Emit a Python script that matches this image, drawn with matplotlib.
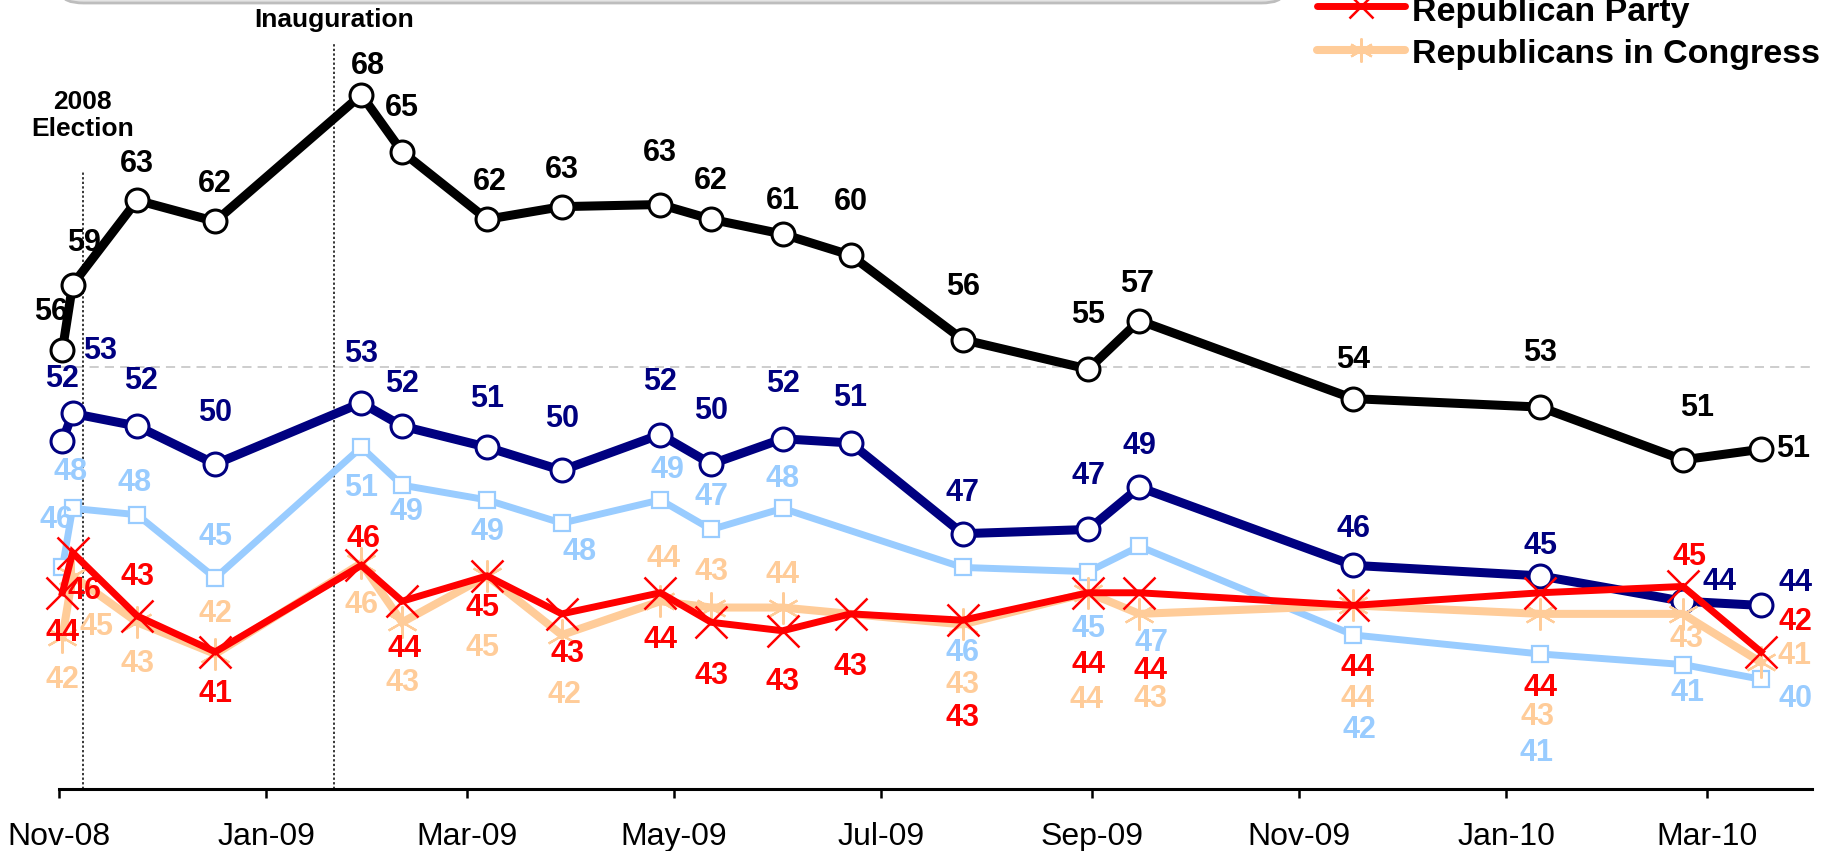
import numpy as np
import pandas as pd
import matplotlib
matplotlib.use("Agg")
import matplotlib.pyplot as plt
import matplotlib.dates as mdates
from matplotlib.lines import Line2D
from matplotlib.patches import FancyBboxPatch

plt.rcParams['font.family'] = ['Liberation Sans', 'DejaVu Sans']

# --- data -------------------------------------------------------------
dates = pd.to_datetime(['2008-11-02', '2008-11-05', '2008-11-24', '2008-12-17',
                        '2009-01-29', '2009-02-10', '2009-03-07', '2009-03-29',
                        '2009-04-27', '2009-05-12', '2009-06-02', '2009-06-22',
                        '2009-07-25', '2009-08-31', '2009-09-15', '2009-11-17',
                        '2010-01-11', '2010-02-22', '2010-03-17'])

series_names = ['Obama', 'Democratic Party', 'Democrats in Congress',
                'Republican Party', 'Republicans in Congress']

obama = [55.8, 58.9, 62.9, 61.9, 67.9, 65.2, 62.0, 62.6, 62.7, 62.0,
         61.3, 60.3, 56.3, 54.9, 57.2, 53.5, 53.1, 50.6, 51.1]
dem_party = [51.5, 52.8, 52.2, 50.4, 53.3, 52.2, 51.2, 50.1, 51.8, 50.4,
             51.6, 51.4, 47.1, 47.3, 49.3, 45.6, 45.1, 43.9, 43.7]
dem_congress = [45.5, 48.3, 48.0, 45.0, 51.2, 49.4, 48.7, 47.6, 48.7, 47.3,
                48.3, np.nan, 45.5, 45.3, 46.5, 42.3, 41.4, 40.9, 40.2]
rep_party = [44.3, 46.2, 43.2, 41.5, 45.6, 43.9, 45.1, 43.3, 44.3, 42.9,
             42.5, 43.3, 43.0, 44.3, 44.3, 43.7, 44.3, 44.6, 41.5]
rep_congress = [42.2, 45.1, 42.9, 41.4, 45.7, 42.9, 45.1, 42.3, 43.9, 43.6,
                43.6, np.nan, 42.8, 44.3, 43.3, 43.7, 43.3, 43.3, 41.0]

# printed data labels
obama_lbl = [56, 59, 63, 62, 68, 65, 62, 63, 63, 62, 61, 60, 56, 55, 57, 54, 53, 51, 51]
dem_party_lbl = [52, 53, 52, 50, 53, 52, 51, 50, 52, 50, 52, 51, 47, 47, 49, 46, 45, 44, 44]
dem_congress_lbl = [46, 48, 48, 45, 51, 49, 49, 48, 49, 47, 48, None, 46, 45, 47, 42, 41, 41, 40]
rep_party_lbl = [44, 46, 43, 41, 46, 44, 45, 43, 44, 43, 43, 43, 43, 44, 44, 44, 44, 45, 42]
rep_congress_lbl = [42, 45, 43, 42, 46, 43, 45, 42, 44, 43, 44, None, 43, 44, 43, 44, 43, 43, 41]

events = pd.to_datetime(['2008-11-08', '2009-01-21'])
event_names = ['2008\nElection', 'Inauguration']

# label offsets in pixels (dx, dy downward)
obama_off = [(-11, -38), (11, -42), (0, -36), (0, -37), (7, -29), (0, -44), (3, -37),
             (0, -37), (0, -52), (0, -38), (0, -33), (0, -53), (0, -53), (0, -54),
             (-2, -37), (0, -39), (0, -54), (14, -52), (32, 0)]
dem_party_off = [(0, -62), (28, -62), (4, -45), (0, -51), (0, -49), (0, -42), (0, -48),
                 (0, -51), (0, -53), (0, -53), (0, -55), (0, -45), (0, -41), (0, -53),
                 (0, -41), (0, -36), (0, -30), (37, -19), (34, -22)]
dem_congress_off = [(-6, -47), (-2, -36), (-3, -32), (0, -41), (0, 41), (4, 27), (0, 32),
                    (18, 29), (7, -30), (0, -32), (0, -29), None, (0, 86), (0, 57),
                    (12, 97), (6, 95), (-4, 99), (5, 28), (34, 20)]
rep_party_off = [(0, 40), (12, 38), (0, -39), (0, 42), (2, -26), (2, 48), (-5, 32),
                 (6, 40), (0, 47), (0, 54), (0, 51), (0, 53), (0, 98), (0, 72),
                 (11, 78), (4, 63), (0, 95), (7, -29), (34, -30)]
rep_congress_off = [(0, 43), (24, 51), (0, 42), (0, -40), (0, 42), (0, 61), (-5, 72),
                    (3, 60), (3, -42), (0, -36), (0, -33), None, (0, 61), (-2, 107),
                    (11, 85), (4, 94), (-3, 103), (4, 25), (33, -6)]

# --- styles -----------------------------------------------------------
styles = [
    dict(color='black', lw=6.5, marker='o', ms=16.5, mfc='white', mec='black', mew=2.2, z=3),
    dict(color='#000080', lw=6.5, marker='o', ms=16.5, mfc='white', mec='#000080', mew=2.2, z=2),
    dict(color='#99CCFF', lw=5.0, marker='s', ms=11.5, mfc='white', mec='#99CCFF', mew=1.6, z=1),
    dict(color='#FF0000', lw=5.0, marker='x', ms=23, mfc='none', mec='#FF0000', mew=1.8, z=5),
    dict(color='#FFCC99', lw=5.8, marker=(6, 2, 0), ms=23, mfc='none', mec='#FFCC99', mew=1.6, z=4),
]
all_vals = [obama, dem_party, dem_congress, rep_party, rep_congress]
all_lbls = [obama_lbl, dem_party_lbl, dem_congress_lbl, rep_party_lbl, rep_congress_lbl]
all_offs = [obama_off, dem_party_off, dem_congress_off, rep_party_off, rep_congress_off]

W, H = 1831, 851
fig = plt.figure(figsize=(W / 100, H / 100), dpi=100)
ax = fig.add_axes([59 / W, 62 / H, (1812 - 59) / W, 789 / H])

lines = []
for vals, st, name in zip(all_vals, styles, series_names):
    v = np.array(vals, dtype=float)
    ok = ~np.isnan(v)
    ln, = ax.plot(dates[ok], v[ok], color=st['color'], lw=st['lw'], marker=st['marker'],
                  ms=st['ms'], mfc=st['mfc'], mec=st['mec'], mew=st['mew'],
                  zorder=st['z'], clip_on=False, label=name, solid_joinstyle='miter')
    lines.append(ln)

# data labels
for vals, lbls, offs, st in zip(all_vals, all_lbls, all_offs, styles):
    for d, v, lb, off in zip(dates, vals, lbls, offs):
        if lb is None:
            continue
        ax.annotate(str(lb), (d, v), xytext=(off[0], -off[1]), textcoords='offset pixels',
                    ha='center', va='center', fontsize=22, fontweight='bold',
                    color=st['color'], zorder=10)

# reference line and event markers
ax.axhline(55, color='#c0c0c0', lw=1.1, ls=(0, (6, 4)), zorder=0)
ax.vlines(events[0], 35, 64.3, colors='black', lw=1.1, linestyles=(0, (1.5, 1.5)), zorder=0)
ax.vlines(events[1], 35, 70.4, colors='black', lw=1.1, linestyles=(0, (1.5, 1.5)), zorder=0)
ax.annotate(event_names[0], (events[0], 64.3), xytext=(0, 55), textcoords='offset pixels',
            ha='center', va='center', fontsize=19, fontweight='bold', linespacing=1.15)
ax.annotate(event_names[1], (events[1], 70.4), xytext=(0, 22), textcoords='offset pixels',
            ha='center', va='center', fontsize=19, fontweight='bold')

ax.set_ylim(35, 35 + 789 / 21.1)
ax.set_xlim(pd.Timestamp('2008-11-01'), pd.Timestamp('2010-04-01'))
ax.xaxis.set_major_locator(mdates.MonthLocator(bymonth=[1, 3, 5, 7, 9, 11]))
ax.xaxis.set_major_formatter(mdates.DateFormatter('%b-%y'))
ax.tick_params(axis='x', direction='out', length=6.5, width=1.8, pad=17, labelsize=23)
ax.set_yticks([])
for s in ['top', 'right', 'left']:
    ax.spines[s].set_visible(False)
ax.spines['bottom'].set_linewidth(2.2)
ax.set_facecolor('none')

# grey box cut off at the top of the picture
box = FancyBboxPatch((62 / W, 1 - 3 / H), (1283 - 62) / W, 0.1,
                     boxstyle='round,pad=0,rounding_size=0.012',
                     transform=fig.transFigure, facecolor='#e4e4e4',
                     edgecolor='#bdbdbd', lw=2, clip_on=False)
fig.add_artist(box)

# visible part of the legend (last two rows)
for i, ln in zip([0, 1], lines[3:]):
    y = 1 - (6 + 44 * i) / H
    x0, x1 = 1317 / W, 1405 / W
    fig.add_artist(Line2D([x0, (x0 + x1) / 2, x1], [y, y, y], transform=fig.transFigure,
                          color=ln.get_color(), lw=ln.get_linewidth(),
                          marker=ln.get_marker(), markevery=[1], ms=ln.get_markersize() * 0.75,
                          mfc=ln.get_markerfacecolor(), mec=ln.get_markeredgecolor(),
                          mew=ln.get_markeredgewidth(), solid_capstyle='round'))
    fig.text(1412 / W, 1 - (12 + 43 * i) / H, ln.get_label(), ha='left', va='center',
             fontsize=24.5, fontweight='bold')

fig.savefig('out.png', dpi=100)
